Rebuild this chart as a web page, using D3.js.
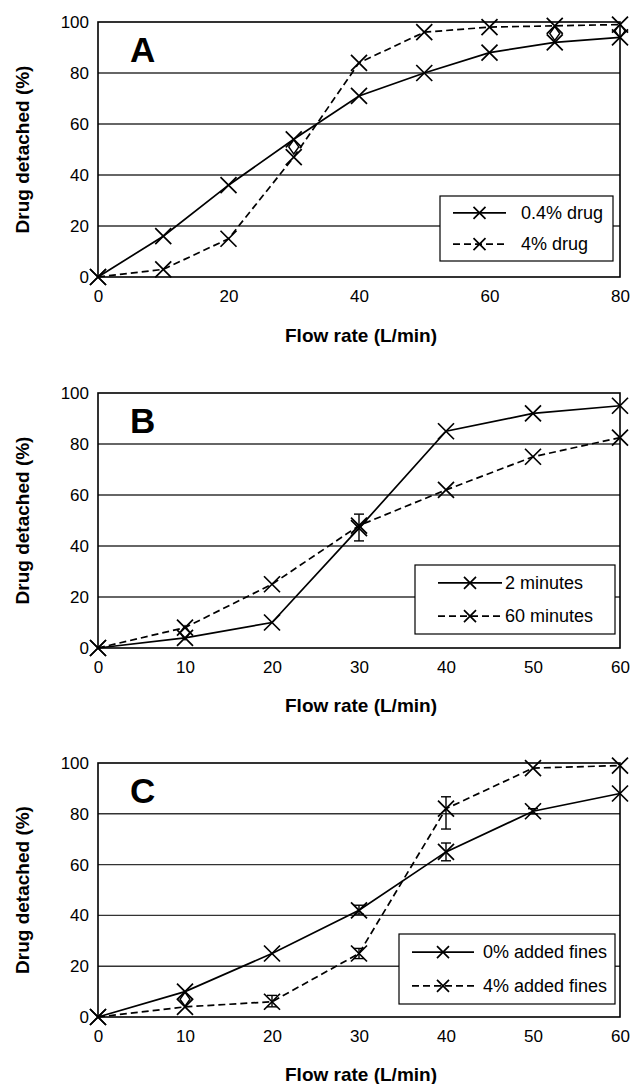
<!DOCTYPE html>
<html>
<head>
<meta charset="utf-8">
<script src="https://cdn.jsdelivr.net/npm/d3@7"></script>
<style>
  body { margin: 0; background: #fff; }
  svg text { font-family: "Liberation Sans", Arial, sans-serif; }
</style>
</head>
<body>
<div id="chart"></div>
<script>
// Panel A
var flowA = [0, 10, 20, 30, 40, 50, 60, 70, 80];
var drug04 = [0, 16, 36, 54, 71, 80, 88, 92, 94];
var drug4 = [0, 3, 15, 47, 84, 96, 98, 98.5, 99];
var diamondsA = [[30, 51], [70, 95.5], [80, 96.5]];

// Panel B
var flowB = [0, 10, 20, 30, 40, 50, 60];
var min2 = [0, 4, 10, 47, 85, 92, 95];
var min60 = [0, 8, 25, 48, 62, 75, 82.5];
var errB = [[30, 42, 52.5]];
var diamondsB = [[10, 6]];

// Panel C
var flowC = [0, 10, 20, 30, 40, 50, 60];
var fines0 = [0, 10, 25, 42, 65, 81, 88];
var fines4 = [0, 4, 6, 25, 82, 98, 99];
var errC = [[30, 40.5, 44], [40, 61.5, 68.5], [50, 80, 82], [20, 4, 8.5], [30, 23, 27], [40, 74, 86.7]];
var diamondsC = [[10, 7]];

var yTicks = [0, 20, 40, 60, 80, 100];

var W = 632, H = 1084;
var svg = d3.select("#chart").append("svg")
    .attr("width", W)
    .attr("height", H);

function drawPanel(opt) {
    var left = 98, right = 620;
    var x = d3.scaleLinear().domain([0, opt.xMax]).range([left, right]);
    var y = d3.scaleLinear().domain([0, 100]).range([opt.bottom, opt.top]);
    var g = svg.append("g");

    // gridlines
    g.selectAll(".grid")
        .data([20, 40, 60, 80])
        .enter().append("line")
        .attr("x1", left).attr("x2", right)
        .attr("y1", function(d) { return y(d); })
        .attr("y2", function(d) { return y(d); })
        .style("stroke", "#333")
        .style("stroke-width", 1.4);

    // frame
    g.append("rect")
        .attr("x", left).attr("y", opt.top)
        .attr("width", right - left).attr("height", opt.bottom - opt.top)
        .style("fill", "none")
        .style("stroke", "#000")
        .style("stroke-width", 1.6);

    // axes (labels only)
    var xAxis = d3.axisBottom(x).tickValues(opt.xTicks).tickSize(0).tickPadding(13);
    g.append("g").attr("transform", "translate(0," + opt.bottom + ")").call(xAxis)
        .call(function(s) { s.select(".domain").remove(); })
        .selectAll("text").style("font-size", "17px").style("fill", "#000");

    var yAxis = d3.axisLeft(y).tickValues(yTicks).tickSize(0).tickPadding(9);
    g.append("g").attr("transform", "translate(" + left + ",0)").call(yAxis)
        .call(function(s) { s.select(".domain").remove(); })
        .selectAll("text").style("font-size", "17px").style("fill", "#000");

    // titles
    g.append("text")
        .attr("x", (left + right) / 2 + 2)
        .attr("y", opt.titleY)
        .attr("text-anchor", "middle")
        .style("font-size", "19px")
        .style("font-weight", "bold")
        .text("Flow rate (L/min)");

    g.append("text")
        .attr("transform", "translate(29," + ((opt.top + opt.bottom) / 2) + ") rotate(-90)")
        .attr("text-anchor", "middle")
        .style("font-size", "19px")
        .style("font-weight", "bold")
        .text("Drug detached (%)");

    g.append("text")
        .attr("x", 130)
        .attr("y", opt.top + 40)
        .style("font-size", "35px")
        .style("font-weight", "bold")
        .text(opt.letter);

    var line = d3.line()
        .x(function(d) { return x(d[0]); })
        .y(function(d) { return y(d[1]); });

    // error bars
    opt.err.forEach(function(e) {
        var eg = g.append("g").style("stroke", "#000").style("stroke-width", 1.4);
        eg.append("line").attr("x1", x(e[0])).attr("x2", x(e[0]))
            .attr("y1", y(e[1])).attr("y2", y(e[2]));
        [e[1], e[2]].forEach(function(v) {
            eg.append("line").attr("x1", x(e[0]) - 5).attr("x2", x(e[0]) + 5)
                .attr("y1", y(v)).attr("y2", y(v));
        });
    });

    opt.series.forEach(function(s) {
        var pts = opt.flow.map(function(f, i) { return [f, s.values[i]]; });
        g.append("path")
            .datum(pts)
            .attr("d", line)
            .style("fill", "none")
            .style("stroke", "#000")
            .style("stroke-width", 1.7)
            .style("stroke-dasharray", s.dash ? "7,4" : null);
        drawCross(g, pts.map(function(p) { return [x(p[0]), y(p[1])]; }), 8);
    });

    // diamonds
    g.selectAll(".dia")
        .data(opt.diamonds)
        .enter().append("path")
        .attr("d", function(d) {
            var cx = x(d[0]), cy = y(d[1]);
            return "M" + cx + "," + (cy - 7) + "L" + (cx + 5) + "," + cy + "L" + cx + "," + (cy + 7) + "L" + (cx - 5) + "," + cy + "Z";
        })
        .style("fill", "none")
        .style("stroke", "#000")
        .style("stroke-width", 1.4);

    // legend
    var L = opt.legend;
    g.append("rect")
        .attr("x", L.x).attr("y", L.y).attr("width", L.w).attr("height", L.h)
        .style("fill", "#fff")
        .style("stroke", "#000")
        .style("stroke-width", 1.2);
    opt.series.forEach(function(s, i) {
        var ly = L.y + L.h * (i === 0 ? 0.26 : 0.74);
        g.append("line")
            .attr("x1", L.lx1).attr("x2", L.lx2)
            .attr("y1", ly).attr("y2", ly)
            .style("stroke", "#000")
            .style("stroke-width", 1.7)
            .style("stroke-dasharray", s.dash ? "7,4" : null);
        drawCross(g, [[(L.lx1 + L.lx2) / 2, ly]], 6);
        g.append("text")
            .attr("x", L.tx)
            .attr("y", ly + 6)
            .style("font-size", "18px")
            .text(s.name);
    });
}

function drawCross(g, pts, r) {
    g.selectAll(null)
        .data(pts)
        .enter().append("path")
        .attr("d", function(d) {
            return "M" + (d[0] - r) + "," + (d[1] - r) + "L" + (d[0] + r) + "," + (d[1] + r) +
                "M" + (d[0] - r) + "," + (d[1] + r) + "L" + (d[0] + r) + "," + (d[1] - r);
        })
        .style("stroke", "#000")
        .style("stroke-width", 1.7)
        .style("fill", "none");
}

drawPanel({
    letter: "A", top: 22, bottom: 277, titleY: 342, xMax: 80,
    xTicks: [0, 20, 40, 60, 80], flow: flowA,
    series: [{name: "0.4% drug", values: drug04}, {name: "4% drug", values: drug4, dash: true}],
    err: [], diamonds: diamondsA,
    legend: {x: 440, y: 196, w: 173, h: 65, lx1: 453, lx2: 506, tx: 521}
});

drawPanel({
    letter: "B", top: 393, bottom: 648, titleY: 712, xMax: 60,
    xTicks: [0, 10, 20, 30, 40, 50, 60], flow: flowB,
    series: [{name: "2 minutes", values: min2}, {name: "60 minutes", values: min60, dash: true}],
    err: errB, diamonds: diamondsB,
    legend: {x: 415, y: 565, w: 200, h: 69, lx1: 438, lx2: 502, tx: 505}
});

drawPanel({
    letter: "C", top: 763, bottom: 1017, titleY: 1081, xMax: 60,
    xTicks: [0, 10, 20, 30, 40, 50, 60], flow: flowC,
    series: [{name: "0% added fines", values: fines0}, {name: "4% added fines", values: fines4, dash: true}],
    err: errC, diamonds: diamondsC,
    legend: {x: 399, y: 934, w: 216, h: 70, lx1: 412, lx2: 474, tx: 483}
});
</script>
</body>
</html>
